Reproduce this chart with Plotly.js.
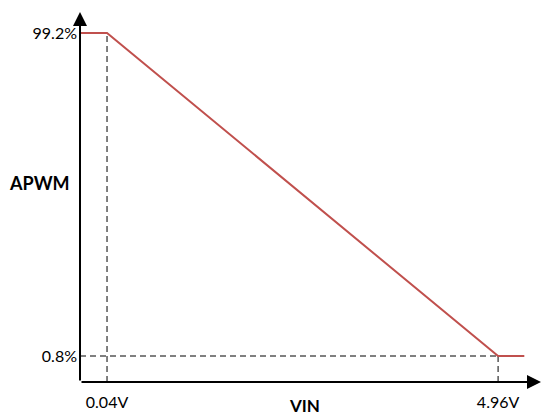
<!DOCTYPE html>
<html>
<head>
<meta charset="utf-8">
<script src="https://cdn.plot.ly/plotly-3.0.1.min.js"></script>
<style>html,body{margin:0;padding:0;background:#fff;}#chart{width:541px;height:418px;}</style>
</head>
<body>
<div id="chart"></div>
<script>
// Data (schematic transfer curve: APWM vs VIN)
const vinPoints = [0.04, 4.96];          // V
const apwmPoints = [99.2, 0.8];          // %
const xTickLabels = ['0.04V', '4.96V'];
const yTickLabels = ['99.2%', '0.8%'];
const vinEnd = 5.29;                     // end of the flat tail

const xRange = [-0.30, 5.50];
const yRange = [-7.12, 105.6];

const FONT = 'Lato, "Open Sans", sans-serif';
const red = '#c0504d';

const curve = {
  x: [xRange[0], vinPoints[0], vinPoints[1], vinEnd],
  y: [apwmPoints[0], apwmPoints[0], apwmPoints[1], apwmPoints[1]],
  mode: 'lines', type: 'scatter',
  line: {color: red, width: 2},
  hoverinfo: 'skip', cliponaxis: false
};

const dash = {color: '#000', width: 1, dash: '6px,4px'};
const shapes = [
  {type: 'line', xref: 'x', yref: 'y', x0: vinPoints[0], x1: vinPoints[0], y0: yRange[0], y1: apwmPoints[0], line: dash, layer: 'below'},
  {type: 'line', xref: 'x', yref: 'y', x0: vinPoints[1], x1: vinPoints[1], y0: yRange[0], y1: apwmPoints[1], line: dash, layer: 'below'},
  {type: 'line', xref: 'x', yref: 'y', x0: xRange[0], x1: vinPoints[1], y0: apwmPoints[1], y1: apwmPoints[1], line: dash, layer: 'below'}
];

const annotations = [
  // axes with arrowheads
  {x: xRange[1], y: yRange[0], ax: xRange[0], ay: yRange[0], xref: 'x', yref: 'y', axref: 'x', ayref: 'y',
   text: '', showarrow: true, arrowhead: 2, arrowsize: 1.4, arrowwidth: 2, arrowcolor: '#000'},
  {x: xRange[0], y: yRange[1], ax: xRange[0], ay: yRange[0], xref: 'x', yref: 'y', axref: 'x', ayref: 'y',
   text: '', showarrow: true, arrowhead: 2, arrowsize: 1.4, arrowwidth: 2, arrowcolor: '#000'},
  // axis titles
  {text: '<b>APWM</b>', xref: 'paper', yref: 'paper', x: -0.087, y: 0.538, xanchor: 'center', yanchor: 'middle',
   showarrow: false, font: {family: FONT, size: 18, color: '#000'}},
  {text: '<b>VIN</b>', xref: 'paper', yref: 'paper', x: 0.487, y: -0.096, xanchor: 'center', yanchor: 'bottom',
   showarrow: false, font: {family: FONT, size: 17, color: '#000'}}
];

const layout = {
  width: 541, height: 418,
  margin: {l: 80, r: 0, t: 12, b: 36},
  paper_bgcolor: '#fff', plot_bgcolor: '#fff',
  showlegend: false,
  font: {family: FONT, size: 16, color: '#000'},
  xaxis: {range: xRange, showgrid: false, zeroline: false, showline: false,
          tickvals: vinPoints, ticktext: xTickLabels, ticks: '', ticklabelstandoff: 9,
          tickfont: {family: FONT, size: 16, color: '#000'}, fixedrange: true},
  yaxis: {range: yRange, showgrid: false, zeroline: false, showline: false,
          tickvals: apwmPoints, ticktext: yTickLabels, ticks: '', ticklabelstandoff: 2,
          tickfont: {family: FONT, size: 16, color: '#000'}, fixedrange: true},
  shapes: shapes,
  annotations: annotations
};

Plotly.newPlot('chart', [curve], layout, {displayModeBar: false, staticPlot: true});
</script>
</body>
</html>
